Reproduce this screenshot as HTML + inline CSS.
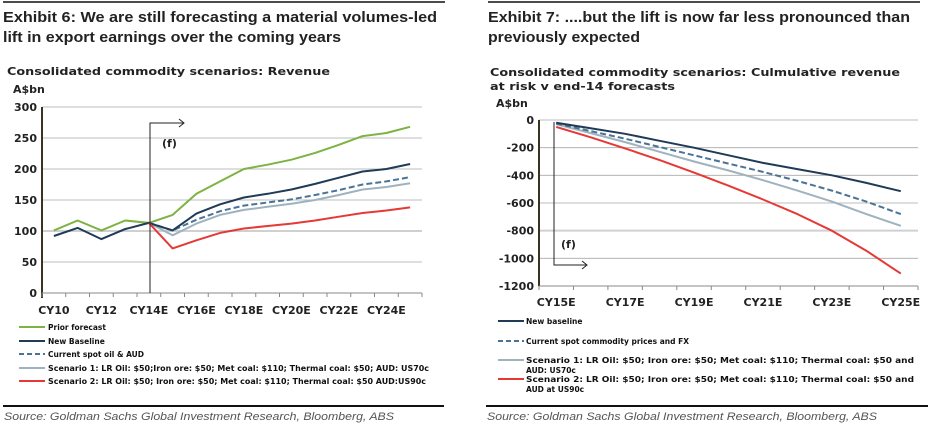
<!DOCTYPE html>
<html><head><meta charset="utf-8"><style>
body{margin:0;background:#fff}
svg{display:block}
text{font-family:"DejaVu Sans","Liberation Sans",sans-serif}
.t{font-family:"Liberation Sans",sans-serif;font-weight:bold;font-size:15px;fill:#222}
.h{font-weight:bold;font-size:11px;fill:#222}
.tk{font-weight:bold;font-size:11px;fill:#222}
.lg{font-weight:bold;font-size:7.5px;fill:#111}
.src{font-family:"Liberation Sans",sans-serif;font-style:italic;font-size:11px;fill:#555}
</style></head><body>
<svg id="svg" width="931" height="428" xmlns="http://www.w3.org/2000/svg">
<line x1="3" y1="2" x2="445" y2="2" stroke="#111" stroke-width="1.5"/>
<line x1="488" y1="2" x2="920" y2="2" stroke="#111" stroke-width="1.5"/>
<text class="t" x="3" y="22" textLength="434" lengthAdjust="spacingAndGlyphs">Exhibit 6: We are still forecasting a material volumes-led</text>
<text class="t" x="3" y="42" textLength="338" lengthAdjust="spacingAndGlyphs">lift in export earnings over the coming years</text>
<text class="t" x="488" y="22" textLength="422" lengthAdjust="spacingAndGlyphs">Exhibit 7: ....but the lift is now far less pronounced than</text>
<text class="t" x="488" y="42" textLength="152" lengthAdjust="spacingAndGlyphs">previously expected</text>

<text class="h" x="7" y="75" textLength="323" lengthAdjust="spacingAndGlyphs">Consolidated commodity scenarios: Revenue</text>
<text class="h" x="13" y="93">A$bn</text>
<text class="h" x="490" y="76" textLength="410" lengthAdjust="spacingAndGlyphs">Consolidated commodity scenarios: Culmulative revenue</text>
<text class="h" x="490" y="90" textLength="185" lengthAdjust="spacingAndGlyphs">at risk v end-14 forecasts</text>
<text class="h" x="496" y="107">A$bn</text>

<g id="left"></g>
<g id="right"></g>

<g>
<line x1="19" y1="327" x2="45" y2="327" stroke="#7cb342" stroke-width="2"/><text class="lg" x="48" y="330">Prior forecast</text>
<line x1="19" y1="341" x2="45" y2="341" stroke="#1f3b57" stroke-width="2"/><text class="lg" x="48" y="344">New Baseline</text>
<line x1="19" y1="354" x2="45" y2="354" stroke="#4a7396" stroke-width="2" stroke-dasharray="5,3"/><text class="lg" x="48" y="357">Current spot oil &amp; AUD</text>
<line x1="19" y1="368" x2="45" y2="368" stroke="#9fb3be" stroke-width="2"/><text class="lg" x="48" y="371" textLength="381" lengthAdjust="spacingAndGlyphs">Scenario 1: LR Oil: $50;Iron ore: $50; Met coal: $110; Thermal coal: $50; AUD: US70c</text>
<line x1="19" y1="381" x2="45" y2="381" stroke="#e53935" stroke-width="2"/><text class="lg" x="48" y="384" textLength="378" lengthAdjust="spacingAndGlyphs">Scenario 2: LR Oil: $50; Iron ore: $50; Met coal: $110; Thermal coal: $50 AUD:US90c</text>
</g>
<g>
<line x1="498" y1="321" x2="524" y2="321" stroke="#1f3b57" stroke-width="2"/><text class="lg" x="526" y="324">New baseline</text>
<line x1="498" y1="341" x2="524" y2="341" stroke="#4a7396" stroke-width="2" stroke-dasharray="5,3"/><text class="lg" x="526" y="344">Current spot commodity prices and FX</text>
<line x1="498" y1="360" x2="524" y2="360" stroke="#9fb3be" stroke-width="2"/><text class="lg" x="526" y="363" textLength="388" lengthAdjust="spacingAndGlyphs">Scenario 1: LR Oil: $50; Iron ore: $50; Met coal: $110; Thermal coal: $50 and</text><text class="lg" x="526" y="373">AUD: US70c</text>
<line x1="498" y1="379" x2="524" y2="379" stroke="#e53935" stroke-width="2"/><text class="lg" x="526" y="382" textLength="388" lengthAdjust="spacingAndGlyphs">Scenario 2: LR Oil: $50; Iron ore: $50; Met coal: $110; Thermal coal: $50 and</text><text class="lg" x="526" y="392">AUD at US90c</text>
</g>
<line x1="3" y1="406" x2="444" y2="406" stroke="#111" stroke-width="2"/>
<line x1="486" y1="406" x2="928" y2="406" stroke="#111" stroke-width="2"/>
<text class="src" x="4" y="420" textLength="390" lengthAdjust="spacingAndGlyphs">Source: Goldman Sachs Global Investment Research, Bloomberg, ABS</text>
<text class="src" x="487" y="420" textLength="390" lengthAdjust="spacingAndGlyphs">Source: Goldman Sachs Global Investment Research, Bloomberg, ABS</text>
</svg>
<script>
// Left chart data
const leftCategories=["CY10","CY11","CY12","CY13","CY14E","CY15E","CY16E","CY17E","CY18E","CY19E","CY20E","CY21E","CY22E","CY23E","CY24E","CY25E"];
const leftTicks=[0,50,100,150,200,250,300];
const priorForecast=[101,117,101,117,113,126,160,180,200,207,215,226,239,253,258,268];
const newBaseline=[92,105,87,103,113,101,128,143,154,160,167,176,186,196,200,208];
const currentSpot=[null,null,null,null,113,101,118,132,141,146,151,158,166,175,180,187];
const scenario1=[null,null,null,null,113,93,112,126,134,139,144,150,158,167,171,177];
const scenario2=[null,null,null,null,113,72,85,97,104,108,112,117,123,129,133,138];
// Right chart data
const rightCategories=["CY15E","CY16E","CY17E","CY18E","CY19E","CY20E","CY21E","CY22E","CY23E","CY24E","CY25E"];
const rightTicks=[0,-200,-400,-600,-800,-1000,-1200];
const rBaseline=[-20,-60,-100,-150,-200,-255,-310,-355,-400,-455,-515];
const rSpot=[-25,-80,-135,-195,-255,-315,-375,-440,-510,-590,-680];
const rScen1=[-30,-95,-160,-230,-300,-365,-435,-510,-590,-680,-765];
const rScen2=[-50,-125,-205,-290,-380,-475,-575,-680,-800,-945,-1110];

const NS="http://www.w3.org/2000/svg";
function mk(parent,tag,attrs){const e=document.createElementNS(NS,tag);for(const k in attrs)e.setAttribute(k,attrs[k]);parent.appendChild(e);return e;}

function chart(g,o){
  const bw=(o.x1-o.x0)/o.cats.length;
  const xs=i=>o.x0+bw*(i+0.5);
  const ys=v=>o.yTop+(o.max-v)/(o.max-o.min)*(o.yBot-o.yTop);
  o.ticks.forEach(t=>{
    const l=mk(g,'line',{x1:o.x0,x2:o.x1,y1:ys(t),y2:ys(t),stroke:t===o.hl?'#d0d0d0':'#a8a8a8','stroke-width':t===o.hl?2:0.8});
    
    
    const tx=mk(g,'text',{x:o.x0-5,y:ys(t)+4,'text-anchor':'end','class':'tk'});
    tx.textContent=t;
    
    
  });
  const ax=mk(g,'line',{x1:o.x0,x2:o.x0,y1:o.yTop,y2:o.yBot+(o.axisExt||0),stroke:'#3a3320','stroke-width':2});
  
  
  const bx=mk(g,'line',{x1:o.x0,x2:o.x1,y1:o.yBot,y2:o.yBot,stroke:'#888','stroke-width':1});
  
  
  for(let i=0;i<=o.cats.length;i++){
    const tk=mk(g,'line',{x1:o.x0+bw*i,x2:o.x0+bw*i,y1:o.yBot,y2:o.yBot+4,stroke:'#888'});
    
    
  }
  o.cats.forEach((c,i)=>{ if(i%2) return;
    const tx=mk(g,'text',{x:xs(i),y:o.labelY,'text-anchor':'middle','class':'tk'});
    tx.textContent=c;
    
    
  });
  o.series.forEach(s=>{
    const pts=[];s.data.forEach((v,i)=>{if(v!==null)pts.push(xs(i).toFixed(1)+','+ys(v).toFixed(1));});
    const p=mk(g,'polyline',{points:pts.join(' '),fill:'none',stroke:s.color,'stroke-width':2,'stroke-dasharray':s.dash||'none','stroke-linejoin':'round'});
    
    
  });
}
chart(document.getElementById('left'),{x0:42,x1:422,yTop:107,yBot:293,min:0,max:300,ticks:leftTicks,hl:100,cats:leftCategories,labelY:314,axisExt:5,
 series:[{name:'line-prior-forecast',data:priorForecast,color:'#7cb342'},{name:'line-scenario-1',data:scenario1,color:'#9fb3be'},{name:'line-current-spot',data:currentSpot,color:'#4a7396',dash:'6,3'},{name:'line-new-baseline',data:newBaseline,color:'#1f3b57'},{name:'line-scenario-2',data:scenario2,color:'#e53935'}]});
chart(document.getElementById('right'),{x0:539,x1:918,yTop:120,yBot:286,min:-1200,max:0,ticks:rightTicks,hl:-800,cats:rightCategories,labelY:306,
 series:[{name:'line-scenario-1-right',data:rScen1,color:'#9fb3be'},{name:'line-current-spot-right',data:rSpot,color:'#4a7396',dash:'6,3'},{name:'line-new-baseline-right',data:rBaseline,color:'#1f3b57'},{name:'line-scenario-2-right',data:rScen2,color:'#e53935'}]});

// forecast markers
const L=document.getElementById('left'),R=document.getElementById('right');
let m=mk(L,'path',{d:'M150 293 V123 H184 M179 119 L184 123 L179 127',fill:'none',stroke:'#222','stroke-width':1});


let f=mk(L,'text',{x:162,y:147,'class':'tk'});f.textContent='(f)';


m=mk(R,'path',{d:'M554 122 V265 H587 M582 261 L587 265 L582 269',fill:'none',stroke:'#222','stroke-width':1});


f=mk(R,'text',{x:561,y:248,'class':'tk'});f.textContent='(f)';


</script>
</body></html>
